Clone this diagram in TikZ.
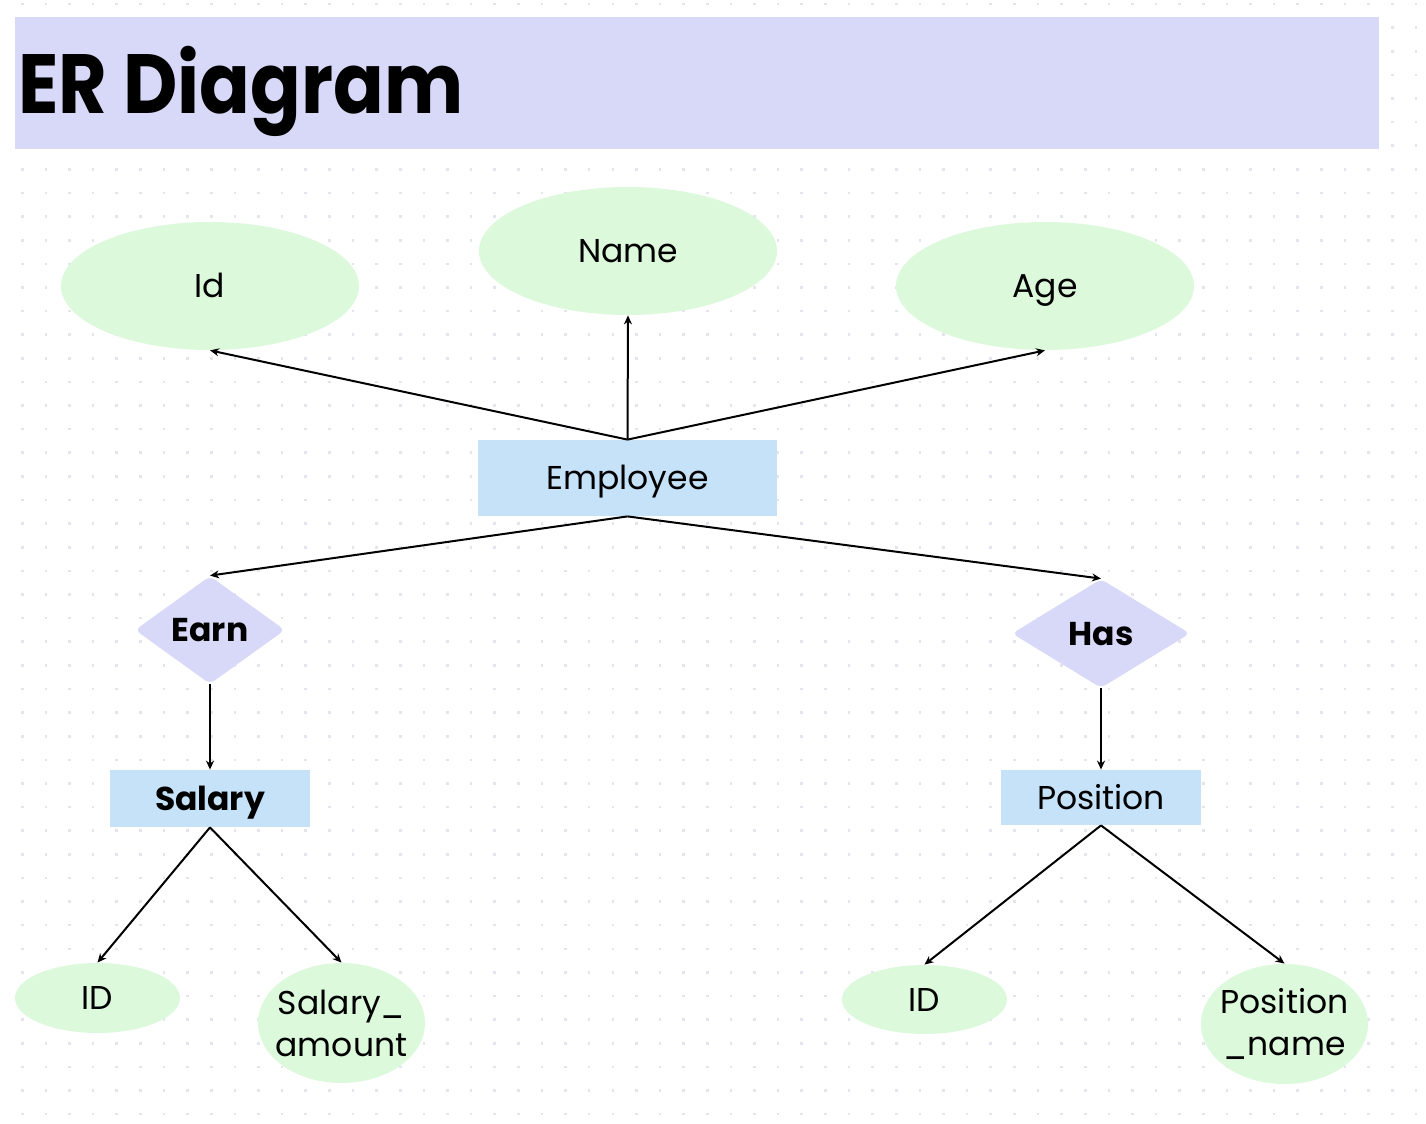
\documentclass[tikz,border=0pt]{standalone}
\usepackage{fontspec}
\setmainfont{Poppins}
\newfontfamily\titlefont[FakeStretch=0.89]{Poppins}
\usetikzlibrary{shapes.geometric,arrows.meta}
\definecolor{titlebg}{HTML}{D8D9F8}
\definecolor{attrbg}{HTML}{DCF9DC}
\definecolor{entbg}{HTML}{C5E2F8}
\definecolor{dotc}{HTML}{E4E4EC}
\begin{document}
\begin{tikzpicture}[x=0.5pt,y=-0.5pt,
  txt/.style={font=\fontsize{16.5}{21}\selectfont},
  onel/.style={text height=11.6pt, text depth=0pt},
  attr/.style={ellipse, fill=attrbg, inner sep=0, txt, align=center},
  ent/.style={rectangle, fill=entbg, inner sep=0, txt, onel},
  rel/.style={diamond, fill=titlebg, rounded corners=3pt, inner sep=0, onel, font=\fontsize{16.5}{21}\selectfont\bfseries},
  conn/.style={line width=1pt, -{Stealth[length=4.5pt,width=4pt]}}]
\useasboundingbox (0,0) rectangle (1426,1124);
\fill[white] (0,0) rectangle (1426,1124);
% dot grid
\foreach \i in {-1,...,59} {
  \foreach \j in {0,...,47} {
    \fill[dotc] ({22.3+23.62*\i-1.3},{4+23.62*\j-1.3}) rectangle +(2.6,2.6);
  }
}
% title
\node[fill=titlebg, minimum width=682pt, minimum height=66pt, inner sep=0] (title) at (697,83) {};
\node[anchor=base west, inner sep=0, font=\titlefont\fontsize{42}{50}\selectfont\bfseries] (titletext) at (18,113) {ER Diagram};
% attributes of employee
\node[attr, onel, minimum width=149pt, minimum height=64pt] (id) at (210,286) {Id};
\node[attr, onel, minimum width=149pt, minimum height=64pt] (name) at (628,251) {Name};
\node[attr, onel, minimum width=149pt, minimum height=64pt] (age) at (1045,286) {Age};
% entities
\node[ent, minimum width=149.5pt, minimum height=38pt] (emp) at (627.5,478) {Employee};
\node[ent, minimum width=100pt, minimum height=28.5pt, font=\fontsize{16.5}{21}\selectfont\bfseries] (salary) at (210,798.5) {Salary};
\node[ent, minimum width=100pt, minimum height=27.5pt] (position) at (1101,797.5) {Position};
% relationships
\node[rel, minimum width=75pt, minimum height=54pt] (earn) at (210,630) {Earn};
\node[rel, minimum width=89pt, minimum height=54.5pt] (has) at (1101,633.5) {Has};
% lower attributes
\node[attr, onel, minimum width=82.5pt, minimum height=35pt] (sid) at (97.5,998) {ID};
\node[attr, inner xsep=-8pt, minimum width=83.5pt, minimum height=60pt] (samount) at (341.5,1023) {Salary\_\\amount};
\node[attr, onel, minimum width=82.5pt, minimum height=34.5pt] (pid) at (924.5,999.5) {ID};
\node[attr, inner xsep=-8pt, minimum width=83.5pt, minimum height=60pt] (pname) at (1284.5,1024) {Position\\\_name};
% connectors
\draw[conn] (emp.north) -- (id.south);
\draw[conn] (emp.north) -- (name.south);
\draw[conn] (emp.north) -- (age.south);
\draw[conn] (emp.south) -- (earn.north);
\draw[conn] (emp.south) -- (has.north);
\draw[conn] (earn.south) -- (salary.north);
\draw[conn] (has.south) -- (position.north);
\draw[conn] (salary.south) -- (sid.north);
\draw[conn] (salary.south) -- (samount.north);
\draw[conn] (position.south) -- (pid.north);
\draw[conn] (position.south) -- (pname.north);
\end{tikzpicture}
\end{document}
